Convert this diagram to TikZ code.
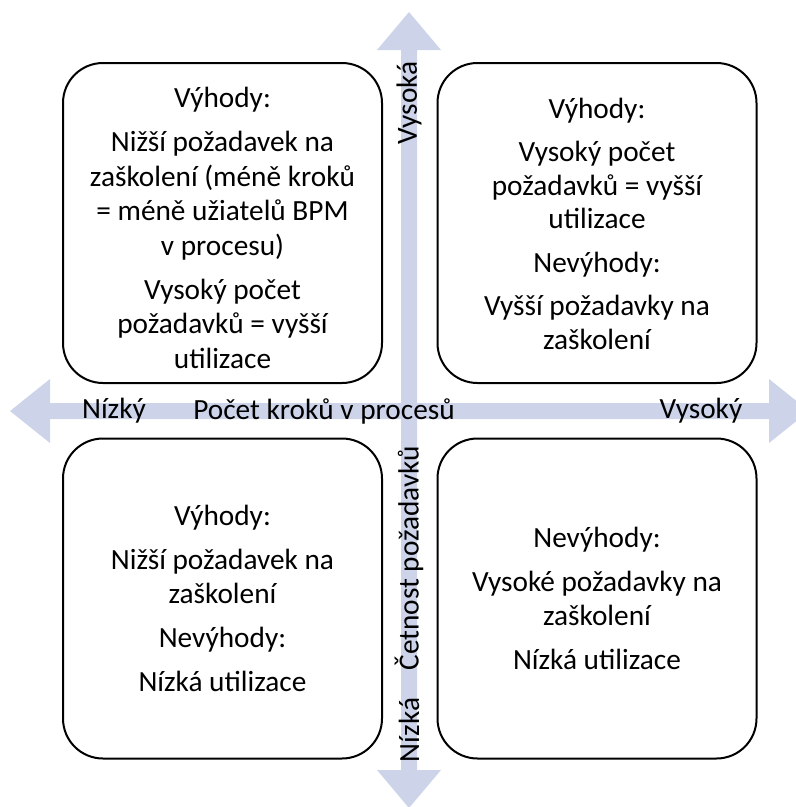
\documentclass[tikz,border=0pt]{standalone}
\usepackage{fontspec}
\setmainfont{Carlito}
\definecolor{axisfill}{RGB}{205,212,234}
\begin{document}
\begin{tikzpicture}[x=1pt,y=-1pt,
  quad/.style={draw=black, line width=2pt, fill=white, rounded corners=40pt,
    minimum width=319pt, minimum height=320pt, inner sep=0pt},
  qtext/.style={align=center, inner sep=0pt, font=\fontsize{29.3}{34.5}\selectfont},
  lbl/.style={font=\fontsize{29.3}{34.5}\selectfont, inner sep=0pt}]
\path[use as bounding box, clip] (0,0) rectangle (796,807);
% horizontal double arrow
\fill[axisfill] (10,411) -- (50,379) -- (50,403) -- (769,403) -- (769,379)
  -- (809,411) -- (769,443) -- (769,419) -- (50,419) -- (50,443) -- cycle;
% vertical double arrow
\fill[axisfill] (409,12) -- (441,50) -- (417,50) -- (417,770) -- (441,770)
  -- (409,808) -- (377,770) -- (401,770) -- (401,50) -- (377,50) -- cycle;
% quadrants
\node[quad] (tl) at (222.5,223) {};
\node[quad] (tr) at (597,223) {};
\node[quad] (bl) at (222.5,598.5) {};
\node[quad] (br) at (597,598.5) {};
\node[qtext] (tltext) at (222.5,228) {Výhody:\\[9.5pt]
  Nižší požadavek na\\ zaškolení (méně kroků\\ = méně užiatelů BPM\\ v procesu)\\[9.5pt]
  Vysoký počet\\ požadavků = vyšší\\ utilizace};
\node[qtext] (trtext) at (597,223.5) {Výhody:\\[9pt]
  Vysoký počet\\[-1pt] požadavků = vyšší\\[-1pt] utilizace\\[9pt]
  Nevýhody:\\[9pt]
  Vyšší požadavky na\\[-1pt] zaškolení};
\node[qtext] (bltext) at (222.5,598.5) {Výhody:\\[9.5pt]
  Nižší požadavek na\\ zaškolení\\[9.5pt]
  Nevýhody:\\[9.5pt]
  Nízká utilizace};
\node[qtext] (brtext) at (597,598.5) {Nevýhody:\\[9.5pt]
  Vysoké požadavky na\\ zaškolení\\[9.5pt]
  Nízká utilizace};
% axis labels
\node[lbl] (lowx) at (114,411) {Nízký};
\node[lbl] (xtitle) at (324,411) {Počet kroků v procesů};
\node[lbl] (highx) at (701,411) {Vysoký};
\node[lbl, rotate=90] (highy) at (409,103) {Vysoká};
\node[lbl, rotate=90] (ytitle) at (409,558) {Četnost požadavků};
\node[lbl, rotate=90] (lowy) at (409,730) {Nízká};
\end{tikzpicture}
\end{document}
